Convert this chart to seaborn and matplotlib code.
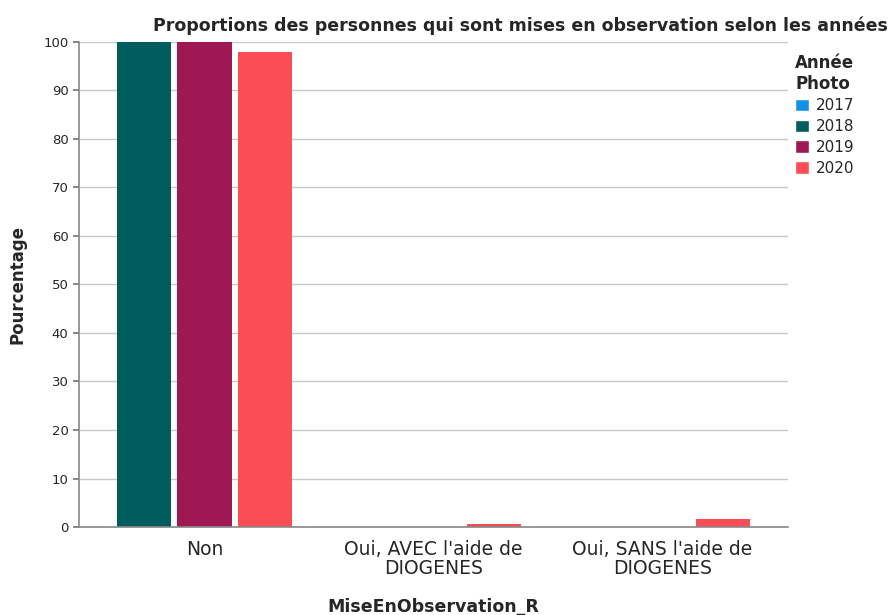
import matplotlib
matplotlib.use('Agg')

import matplotlib.pyplot as plt
import pandas as pd
import seaborn as sns
from matplotlib.patches import Patch

categories = ["Non", "Oui, AVEC l'aide de\nDIOGENES", "Oui, SANS l'aide de\nDIOGENES"]
years = ["2017", "2018", "2019", "2020"]
pct_2018 = [100.0, 0.0, 0.0]
pct_2019 = [100.0, 0.0, 0.0]
pct_2020 = [97.8, 0.6, 1.6]
colors = {"2017": "#1192e8", "2018": "#005d5d", "2019": "#9f1853", "2020": "#fa4d56"}

sns.set_theme(style="white")
plt.rcParams['font.family'] = ['DejaVu Sans']

df = pd.DataFrame({
    'cat': categories * 3,
    'year': ["2018"] * 3 + ["2019"] * 3 + ["2020"] * 3,
    'pct': pct_2018 + pct_2019 + pct_2020,
})

fig = plt.figure(figsize=(8.91, 6.15), dpi=100)
ax = fig.add_axes([0.0887, 0.143, 0.7957, 0.789])

# 2017 has no observations, so only 2018-2020 get a slot (as in SPSS output)
sns.barplot(data=df, x='cat', y='pct', hue='year', hue_order=["2018", "2019", "2020"],
            order=categories, palette=colors, width=0.79, gap=0.1, linewidth=0,
            saturation=1, legend=False, ax=ax, zorder=3)

ax.set_xlim(-0.548, 2.548)
ax.set_ylim(0, 100)
ax.set_yticks(range(0, 101, 10))
ax.tick_params(axis='y', labelsize=9.5, length=4, color='#777777', left=True)
ax.tick_params(axis='x', labelsize=13.5, length=0, pad=9)
for lab in ax.get_xticklabels():
    lab.set_linespacing(1.0)
ax.yaxis.grid(True, color='#c8c8c8', linewidth=1, zorder=0)
ax.set_axisbelow(True)
for s in ['top', 'right']:
    ax.spines[s].set_visible(False)
for s in ['left', 'bottom']:
    ax.spines[s].set_color('#888888')
    ax.spines[s].set_linewidth(1.2)
    ax.spines[s].set_zorder(5)

ax.set_ylabel("Pourcentage", fontsize=12, fontweight='bold', labelpad=12)
ax.set_xlabel("MiseEnObservation_R", fontsize=12.5, fontweight='bold', labelpad=15)
fig.text(0.584, 0.958, "Proportions des personnes qui sont mises en observation selon les années",
         ha='center', va='center', fontsize=12.5, fontweight='bold')

handles = [Patch(facecolor=colors[y], label=y) for y in years]
leg = fig.legend(handles=handles, title="Année\nPhoto", loc='upper left',
                 bbox_to_anchor=(0.877, 0.935), frameon=False, fontsize=11,
                 handlelength=0.9, handleheight=0.9, handletextpad=0.45, labelspacing=0.38,
                 title_fontproperties={'weight': 'bold', 'size': 12})
leg._legend_box.align = 'center'

fig.savefig("out.png", dpi=100)
plt.close('all')
